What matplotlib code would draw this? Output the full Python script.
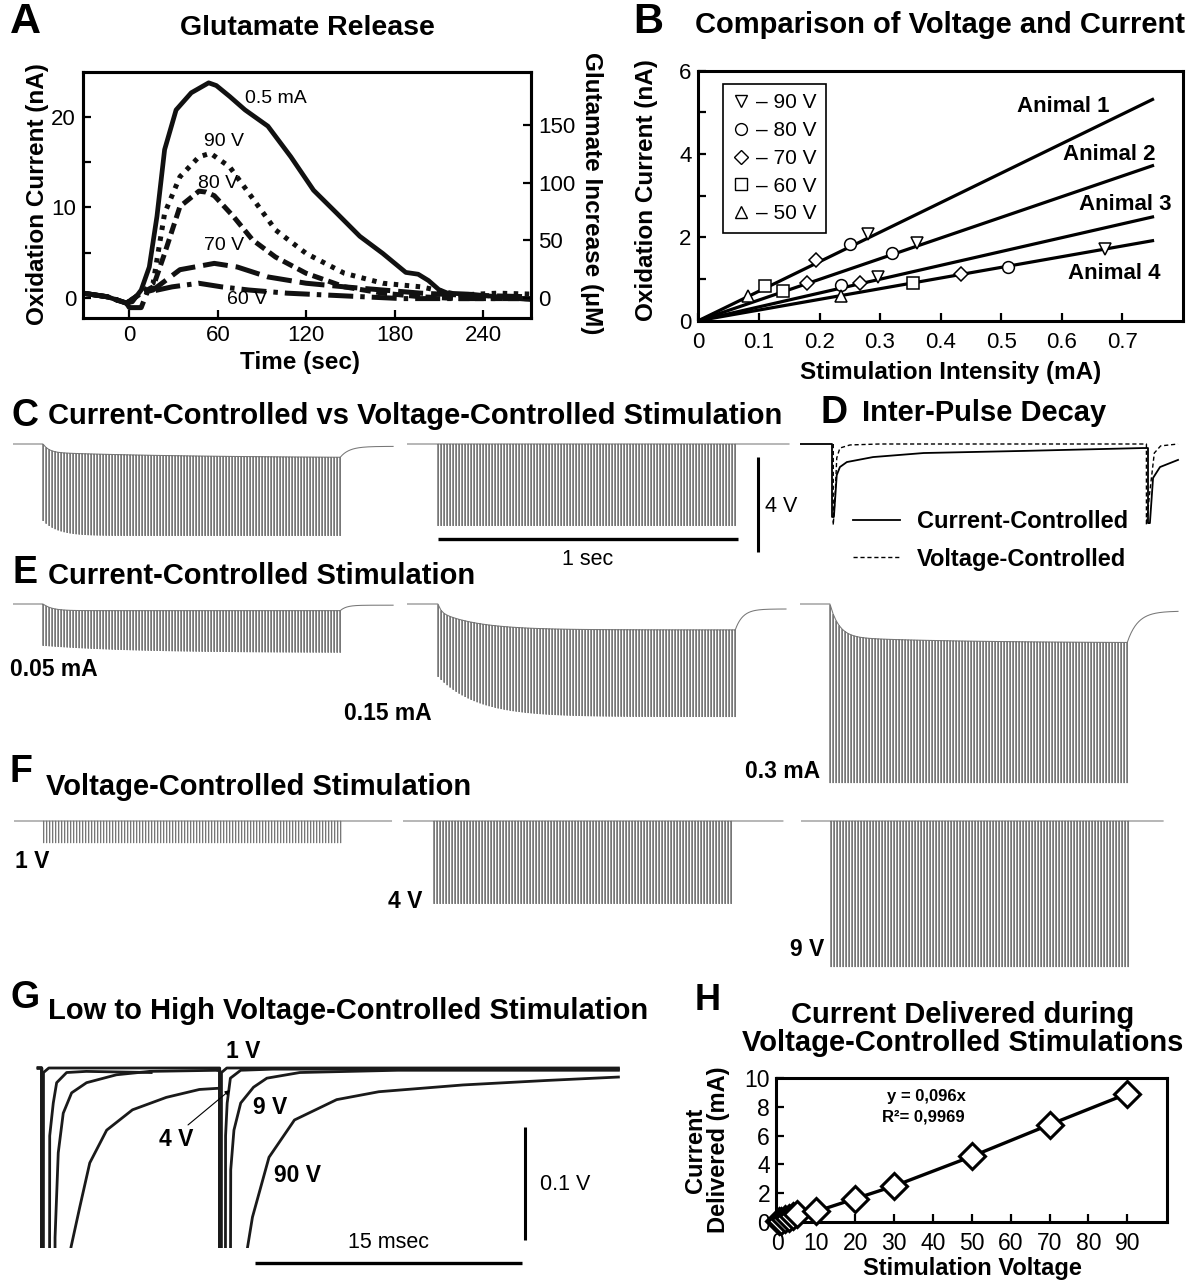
import numpy as np
import matplotlib
matplotlib.use("Agg")
import matplotlib.pyplot as plt
from matplotlib.lines import Line2D

plt.rcParams['font.family'] = ['Liberation Sans', 'DejaVu Sans']

# ---------------- Panel A : glutamate release (time s, oxidation current nA)
a_t_05mA = [-31.5, -15, -2, 2, 8, 13.5, 18.7, 23.9, 31.7, 42, 53.8, 59, 68, 78.5, 94, 109.6, 125,
            140.8, 156.4, 172, 187.6, 196, 203, 210, 216, 230, 250, 272]
a_i_05mA = [0.5, 0.1, -0.6, -0.45, 0.85, 3.4, 9.0, 16.4, 20.8, 22.7, 23.8, 23.5, 22.3, 20.8, 19.0, 15.6,
            11.9, 9.35, 6.8, 4.9, 2.8, 2.6, 1.9, 0.9, 0.5, 0.4, 0.1, -0.2]
a_t_90V = [-31.5, -15, -2, 8, 16.1, 18.7, 23.9, 34.3, 47.2, 55, 68, 81, 99.2, 120, 146, 172, 198, 224, 250, 272]
a_i_90V = [0.5, 0.1, -0.6, 0.5, 1.6, 4.2, 9.35, 13.4, 15.6, 16.0, 14.5, 11.6, 7.5, 4.9, 2.7, 1.6, 1.2, 0.3, 0.5, 0.4]
a_t_80V = [-31.5, -15, -2, 8, 16.1, 23.9, 34.3, 47.2, 52, 57.6, 70.6, 83.6, 99.2, 120, 146, 172, 198, 224, 272]
a_i_80V = [0.5, 0.1, -0.6, 0.5, 1.2, 4.9, 10.1, 11.8, 11.7, 11.3, 9.0, 6.4, 4.5, 2.7, 1.2, 0.5, 0.1, -0.1, -0.1]
a_t_70V = [-31.5, -15, -2, 8, 16, 34.3, 57.6, 73.2, 94, 120, 146, 172, 198, 224, 272]
a_i_70V = [0.5, 0.1, -0.6, 0.5, 0.85, 3.1, 3.8, 3.4, 2.3, 1.6, 1.2, 0.85, 0.5, 0.3, 0.1]
a_t_60V = [-31.5, -15, -2, 0, 8, 12, 29, 47, 62.6, 81, 107, 133, 159, 185, 224, 272]
a_i_60V = [0.5, 0.1, -0.6, -1.1, -1.1, 0.6, 1.2, 1.6, 1.2, 0.85, 0.5, 0.3, 0.1, -0.1, -0.1, -0.1]
a_xticks = [0, 60, 120, 180, 240]
a_yticks = [0, 10, 20]
a_rticks = [0, 50, 100, 150]
a_um_per_na = 7.84

# ---------------- Panel B : oxidation current vs stimulation intensity
b_int_90 = [0.280, 0.361, 0.297, 0.671]
b_cur_90 = [2.09, 1.87, 1.06, 1.73]
b_int_80 = [0.250, 0.320, 0.236, 0.512]
b_cur_80 = [1.83, 1.63, 0.85, 1.30]
b_int_70 = [0.195, 0.179, 0.267, 0.433]
b_cur_70 = [1.45, 0.91, 0.91, 1.11]
b_int_60 = [0.110, 0.139, 0.354]
b_cur_60 = [0.83, 0.71, 0.90]
b_int_50 = [0.082, 0.236]
b_cur_50 = [0.60, 0.59]
b_animals = ['Animal 1', 'Animal 2', 'Animal 3', 'Animal 4']
b_fit_int = [0.0, 0.75]
b_fit_end_cur = [5.31, 3.72, 2.49, 1.92]
b_xticks = [0, 0.1, 0.2, 0.3, 0.4, 0.5, 0.6, 0.7]
b_xticklabels = ['0', '0.1', '0.2', '0.3', '0.4', '0.5', '0.6', '0.7']

# ---------------- Panel H : current delivered vs voltage
h_volt = [0.5, 1, 2, 3, 4, 5, 10, 20, 30, 50, 70, 90]
h_curr = [0.05, 0.1, 0.2, 0.3, 0.4, 0.55, 0.74, 1.62, 2.5, 4.56, 6.76, 8.91]

# ---------------- Pulse trains (C, E, F): 100 pulses at 100 Hz, volts
n_pulses = 100
pulse_period = 0.01
tr_name = ['C_cc', 'C_vc', 'E_005', 'E_015', 'E_03', 'F_1V', 'F_4V', 'F_9V']
tr_t_pre = [-0.10, -0.103, -0.10, -0.103, -0.10, -0.10, -0.103, -0.10]
tr_t_post = [1.167, 1.17, 1.167, 1.16, 1.16, 1.16, 1.163, 1.107]
tr_env_final = [-0.59, 0.0, -0.28, -1.09, -1.64, 0.0, 0.0, 0.0]
tr_env_frac = [0.6, 1.0, 1.0, 0.3, 0.85, 1.0, 1.0, 1.0]
tr_env_tau_f = [0.02, 0.02, 0.03, 0.01, 0.03, 0.02, 0.02, 0.02]
tr_env_tau_s = [0.5, 0.5, 0.5, 0.13, 0.4, 0.5, 0.5, 0.5]
tr_bot_start = [-3.24, -3.45, -1.76, -3.07, -7.54, -0.93, -3.49, -6.15]
tr_bot_final = [-3.87, -3.45, -2.06, -4.76, -7.54, -0.93, -3.49, -6.15]
tr_bot_tau = [0.05, 0.1, 0.3, 0.13, 0.1, 0.1, 0.1, 0.1]
tr_rec_final = [-0.10, 0.0, -0.05, -0.21, -0.30, 0.0, 0.0, 0.0]
tr_rec_tau = [0.03, 0.02, 0.02, 0.025, 0.035, 0.02, 0.02, 0.02]

# ---------------- Panel D : inter-pulse decay (ms, V)
d_t_cc = [-1.0, 0, 0, 0.06, 0.15, 0.25, 0.47, 1.3, 2.9, 6.1, 9.84, 10.0, 10.0, 10.06, 10.16, 10.38, 10.95]
d_v_cc = [0, 0, -3.07, -3.07, -1.31, -0.97, -0.76, -0.55, -0.38, -0.29, -0.17, -0.17, -3.33, -3.33, -1.43,
          -0.97, -0.67]
d_t_vc = [0.04, 0.04, 0.10, 0.15, 0.25, 0.57, 1.5, 9.95, 9.95, 10.05, 10.2, 10.4, 10.95]
d_v_vc = [0, -3.41, -2.15, -0.59, -0.17, -0.04, 0, 0, -3.41, -2.10, -0.38, -0.08, 0]

# ---------------- Panel G : low to high voltage (ms, V)
nan = float('nan')
g_t_1V = [-0.2, 0, 0, 0.09, 0.10, 0.4, 10, 10, 10.09, 10.10, 10.4, 32.4]
g_v_1V = [0, 0, -0.5, -0.5, -0.004, 0, 0, -0.5, -0.5, -0.004, 0, 0]
g_t_4V = [-0.2, 0, 0, 0.42, 0.45, 0.65, 0.84, 1.4, 2.5, 6.15, nan, 9.9, 10, 10, 10.30, 10.33, 10.42,
          10.6, 11.18, 13, 32.4]
g_v_4V = [0, 0, -0.5, -0.5, -0.06, -0.031, -0.013, -0.004, -0.003, -0.004, nan, -0.002, -0.002, -0.5,
          -0.5, -0.06, -0.031, -0.009, -0.002, -0.001, -0.001]
g_t_9V = [-0.2, 0, 0, 0.72, 0.75, 0.93, 1.21, 1.68, 2.52, 4.2, 6.06, 9.98, 10, 10, 10.55, 10.62, 10.8,
          11.18, 11.9, 12.65, 14.5, 20, 32.4]
g_v_9V = [0, 0, -0.5, -0.5, -0.15, -0.075, -0.040, -0.022, -0.013, -0.006, -0.003, -0.002, -0.002, -0.5,
          -0.5, -0.09, -0.055, -0.031, -0.017, -0.009, -0.004, -0.002, -0.002]
g_t_90V = [-0.2, 0, 0, 1.6, 1.64, 2.14, 2.7, 3.65, 5.1, 7.0, 8.86, 9.87, 10, 10, 11.53, 11.55, 11.84,
           12.77, 14.2, 16.57, 18.94, 23.67, 28.4, 32.4]
g_v_90V = [0, 0, -0.5, -0.5, -0.159, -0.123, -0.084, -0.055, -0.037, -0.026, -0.019, -0.018, -0.018,
           -0.5, -0.5, -0.16, -0.132, -0.079, -0.046, -0.028, -0.021, -0.015, -0.011, -0.008]

# ======================================================================
W, H = 1198, 1283
fig = plt.figure(figsize=(W / 100, H / 100), dpi=100)


def px_rect(l, t, r, b):
    return [l / W, 1 - b / H, (r - l) / W, (b - t) / H]


def ftext(x, y, s, **kw):
    kw.setdefault('ha', 'center')
    kw.setdefault('va', 'center')
    return fig.text(x / W, 1 - y / H, s, **kw)


def style_box(ax, lw=2.2, pad=5):
    for sp in ax.spines.values():
        sp.set_linewidth(lw)
    ax.tick_params(which='both', direction='in', length=6, width=1.6, labelsize=16, pad=pad)


def trace_ax(x0_px, base_px, t_lim, v_lim, px_t, px_v):
    l = x0_px + t_lim[0] * px_t
    r = x0_px + t_lim[1] * px_t
    t = base_px - v_lim[1] * px_v
    b = base_px - v_lim[0] * px_v
    ax = fig.add_axes(px_rect(l, t, r, b))
    ax.set_xlim(t_lim)
    ax.set_ylim(v_lim)
    ax.axis('off')
    return ax


TITLE = 21

# ---------------- Panel A
axA = fig.add_axes(px_rect(83, 72, 531, 318))
k = dict(color='#111111', lw=3.6)
axA.plot(a_t_60V, a_i_60V, ls=(0, (5, 1.4, 0.9, 1.4)), **k)
axA.plot(a_t_70V, a_i_70V, ls=(0, (5, 1.6)), **k)
axA.plot(a_t_80V, a_i_80V, ls=(0, (2.2, 1.1)), **k)
axA.plot(a_t_90V, a_i_90V, ls=(0, (0.9, 1.3)), **k)
axA.plot(a_t_05mA, a_i_05mA, color='#111111', lw=3.4, solid_joinstyle='round')
axA.set_xlim(-31.5, 272.6)
axA.set_ylim(-2.25, 25)
axA.set_xticks(a_xticks)
axA.set_yticks(a_yticks)
axA.set_yticks([5, 15], minor=True)
style_box(axA)
axA2 = axA.twinx()
axA2.set_ylim(-2.25 * a_um_per_na, 25 * a_um_per_na)
axA2.set_yticks(a_rticks)
style_box(axA2)
axA.text(78.6, 22.1, '0.5 mA', fontsize=14, ha='left', va='center')
axA.text(64, 17.3, '90 V', fontsize=14, ha='center', va='center')
axA.text(60, 12.7, '80 V', fontsize=14, ha='center', va='center')
axA.text(64, 5.8, '70 V', fontsize=14, ha='center', va='center')
axA.text(80, -0.25, '60 V', fontsize=14, ha='center', va='center')
ftext(25, 22, 'A', fontsize=31, fontweight='bold')
ftext(307, 28, 'Glutamate Release', fontsize=20.5, fontweight='bold')
ftext(38, 194, 'Oxidation Current (nA)', fontsize=17.5, fontweight='bold', rotation=90)
ftext(591, 193, 'Glutamate Increase (μM)', fontsize=17.5, fontweight='bold', rotation=270)
ftext(300, 362, 'Time (sec)', fontsize=17.5, fontweight='bold')

# ---------------- Panel B
axB = fig.add_axes(px_rect(698.4, 70.7, 1182.8, 320.7))
for yend in b_fit_end_cur:
    axB.plot(b_fit_int, [0, yend], color='black', lw=2.3, zorder=2)
mk = dict(ls='none', mfc='white', mec='black', mew=1.1, zorder=3)
axB.plot(b_int_90, b_cur_90, marker='v', ms=9, **mk)
axB.plot(b_int_80, b_cur_80, marker='o', ms=8.5, **mk)
axB.plot(b_int_70, b_cur_70, marker='D', ms=7, **mk)
axB.plot(b_int_60, b_cur_60, marker='s', ms=8, **mk)
axB.plot(b_int_50, b_cur_50, marker='^', ms=9, **mk)
axB.set_xlim(0, 0.8)
axB.set_ylim(0, 6)
axB.set_xticks(b_xticks)
axB.set_xticklabels(b_xticklabels)
axB.set_yticks([0, 2, 4, 6])
axB.set_yticks([1, 3, 5], minor=True)
style_box(axB)
axB.tick_params(axis='x', pad=8)
b_lab_pos = [(0.526, 5.14), (0.602, 3.98), (0.628, 2.80), (0.611, 1.14)]
for name, (lx, ly) in zip(b_animals, b_lab_pos):
    axB.text(lx, ly, name, fontsize=16, fontweight='bold', ha='left', va='center')
hb = [Line2D([], [], marker=m, ms=s, ls='none', mfc='white', mec='black', mew=1.0)
      for m, s in zip(['v', 'o', 'D', 's', '^'], [9, 8.5, 7, 8, 9])]
legB = axB.legend(hb, ['– 90 V', '– 80 V', '– 70 V', '– 60 V', '– 50 V'], loc='upper left',
                  bbox_to_anchor=((723 - 698.4) / 484.4, (320.7 - 84) / 250.0), fontsize=15,
                  frameon=True, fancybox=False, edgecolor='black', framealpha=1,
                  handlelength=0.8, handletextpad=0.35, labelspacing=0.42, borderpad=0.45,
                  borderaxespad=0, numpoints=1)
legB.get_frame().set_linewidth(1.2)
ftext(648, 22, 'B', fontsize=30, fontweight='bold')
ftext(940, 25, 'Comparison of Voltage and Current', fontsize=21, fontweight='bold')
ftext(646, 190, 'Oxidation Current (nA)', fontsize=17.5, fontweight='bold', rotation=90)
ftext(951, 372, 'Stimulation Intensity (mA)', fontsize=17.5, fontweight='bold')

# ---------------- Pulse-train panels (C, E, F)
PX_S = 300.0
PX_V = 23.75
tr_x0 = [43, 438, 43, 438, 830, 43.5, 434, 831]
tr_base = [444, 444, 604, 604, 604, 821, 821, 821]
tr_vlim = [(-4.2, 0.3), (-5.0, 0.3), (-2.3, 0.3), (-5.0, 0.3), (-7.7, 0.3), (-1.2, 0.3), (-3.7, 0.3),
           (-6.4, 0.3)]


def env_value(i, t):
    ef = tr_env_final[i]
    fr = tr_env_frac[i]
    return ef * (1 - fr * np.exp(-t / tr_env_tau_f[i]) - (1 - fr) * np.exp(-t / tr_env_tau_s[i]))


trace_axes = []
for i in range(len(tr_name)):
    ax = trace_ax(tr_x0[i], tr_base[i], (tr_t_pre[i], tr_t_post[i] + 0.01), tr_vlim[i], PX_S, PX_V)
    trace_axes.append(ax)
    pt = np.arange(n_pulses) * pulse_period
    bot = tr_bot_final[i] + (tr_bot_start[i] - tr_bot_final[i]) * np.exp(-pt / tr_bot_tau[i])
    ts = [tr_t_pre[i]]
    vs = [0.0]
    dt = 0.0009
    for tp, bv in zip(pt, bot):
        ts += [tp, tp + dt / 2, tp + dt]
        vs += [env_value(i, tp), bv, env_value(i, tp + dt)]
    t_last = pt[-1] + dt
    e_last = env_value(i, t_last)
    tr_rec = np.linspace(t_last, tr_t_post[i], 80)
    v_rec = tr_rec_final[i] + (e_last - tr_rec_final[i]) * np.exp(-(tr_rec - t_last) / tr_rec_tau[i])
    ts += list(tr_rec)
    vs += list(v_rec)
    ax.plot(ts, vs, color='#777777', lw=0.75, solid_joinstyle='miter')

# scale bars in panel C (right trace axes)
axCv = trace_axes[1]
axCv.plot([0, 1.0], [-4.0, -4.0], color='black', lw=2.4, clip_on=False, solid_capstyle='butt')
axCv.plot([1.067, 1.067], [-0.55, -4.55], color='black', lw=2.2, clip_on=False, solid_capstyle='butt')
ftext(588, 560, '1 sec', fontsize=15.5)
ftext(765, 507, '4 V', fontsize=15.5, ha='left')

ftext(25, 416, 'C', fontsize=27, fontweight='bold')
ftext(48, 416, 'Current-Controlled vs Voltage-Controlled Stimulation', fontsize=TITLE,
      fontweight='bold', ha='left')
ftext(25, 573, 'E', fontsize=27, fontweight='bold')
ftext(48, 576, 'Current-Controlled Stimulation', fontsize=TITLE, fontweight='bold', ha='left')
ftext(21, 772, 'F', fontsize=27, fontweight='bold')
ftext(46, 787, 'Voltage-Controlled Stimulation', fontsize=TITLE, fontweight='bold', ha='left')
LBL = 16.5
ftext(10, 670, '0.05 mA', fontsize=LBL, fontweight='bold', ha='left')
ftext(432, 713, '0.15 mA', fontsize=LBL, fontweight='bold', ha='right')
ftext(820, 772, '0.3 mA', fontsize=LBL, fontweight='bold', ha='right')
ftext(15, 862, '1 V', fontsize=LBL, fontweight='bold', ha='left')
ftext(422, 902, '4 V', fontsize=LBL, fontweight='bold', ha='right')
ftext(824, 950, '9 V', fontsize=LBL, fontweight='bold', ha='right')

# ---------------- Panel D
axD = trace_ax(832, 444, (-1.0, 11.1), (-3.7, 0.15), 31.6, PX_V)
axD.plot(d_t_cc, d_v_cc, color='black', lw=1.3)
axD.plot(d_t_vc, d_v_vc, color='black', lw=1.0, ls=(0, (3, 2)))
ftext(834, 413, 'D', fontsize=27, fontweight='bold')
ftext(862, 413, 'Inter-Pulse Decay', fontsize=TITLE, fontweight='bold', ha='left')
hd = [Line2D([], [], color='black', lw=1.3), Line2D([], [], color='black', lw=1.0, ls=(0, (3, 2)))]
fig.legend(hd, ['Current-Controlled', 'Voltage-Controlled'], loc='upper left',
           bbox_to_anchor=(853 / W, 1 - 510 / H), frameon=False,
           prop={'weight': 'bold', 'size': 17}, handlelength=2.0, handletextpad=0.72,
           labelspacing=0.62, borderpad=0, borderaxespad=0)

# ---------------- Panel G
axG = trace_ax(41.7, 1068, (-0.5, 33.0), (-0.159, 0.012), 17.8, 1130.0)
gk = dict(color='#1a1a1a', lw=2.0)
axG.plot(g_t_90V, g_v_90V, **gk)
axG.plot(g_t_9V, g_v_9V, **gk)
axG.plot(g_t_4V, g_v_4V, **gk)
axG.plot(g_t_1V, g_v_1V, **gk)
axG.plot([12.01, 27.01], [-0.1726, -0.1726], color='black', lw=2.4, clip_on=False, solid_capstyle='butt')
axG.plot([27.15, 27.15], [-0.0522, -0.1522], color='black', lw=2.2, clip_on=False, solid_capstyle='butt')
axG.annotate('', xy=(10.58, -0.0195), xytext=(8.22, -0.0504),
             arrowprops=dict(arrowstyle='-|>', lw=0.8, color='black', mutation_scale=7,
                             shrinkA=0, shrinkB=0))
ftext(25, 998, 'G', fontsize=27, fontweight='bold')
ftext(48, 1011, 'Low to High Voltage-Controlled Stimulation', fontsize=TITLE, fontweight='bold',
      ha='left')
ftext(243, 1052, '1 V', fontsize=16.5, fontweight='bold')
ftext(270, 1107, '9 V', fontsize=16.5, fontweight='bold')
ftext(176, 1140, '4 V', fontsize=16.5, fontweight='bold')
ftext(297, 1175, '90 V', fontsize=16.5, fontweight='bold')
ftext(540, 1185, '0.1 V', fontsize=15.5, ha='left')
ftext(389, 1243, '15 msec', fontsize=15.5)

# ---------------- Panel H
axH = fig.add_axes(px_rect(775.6, 1078, 1167, 1222))
axH.plot(h_volt, h_curr, color='black', lw=2.4, zorder=2)
axH.plot(h_volt, h_curr, ls='none', marker='D', ms=13, mfc='white', mec='black', mew=2.2, zorder=3,
         clip_on=False)
axH.set_xlim(-0.5, 100.2)
axH.set_ylim(0, 10)
axH.set_xticks(range(0, 100, 10))
axH.set_yticks(range(0, 11, 2))
style_box(axH)
axH.tick_params(labelsize=16.5, pad=4)
axH.tick_params(axis='x', pad=7)
axH.text(38.2, 8.75, 'y = 0,096x', fontsize=12, fontweight='bold', ha='center', va='center')
axH.text(27.0, 7.3, 'R²= 0,9969', fontsize=12, fontweight='bold', ha='left', va='center')
ftext(708, 1000, 'H', fontsize=26, fontweight='bold')
ftext(963, 1015, 'Current Delivered during', fontsize=21, fontweight='bold')
ftext(963, 1043, 'Voltage-Controlled Stimulations', fontsize=21, fontweight='bold')
ftext(707, 1150, 'Current\nDelivered (mA)', fontsize=17, fontweight='bold', rotation=90,
      multialignment='center', linespacing=1.0)
ftext(972, 1268, 'Stimulation Voltage', fontsize=17, fontweight='bold')

fig.savefig('out.png', dpi=100)
